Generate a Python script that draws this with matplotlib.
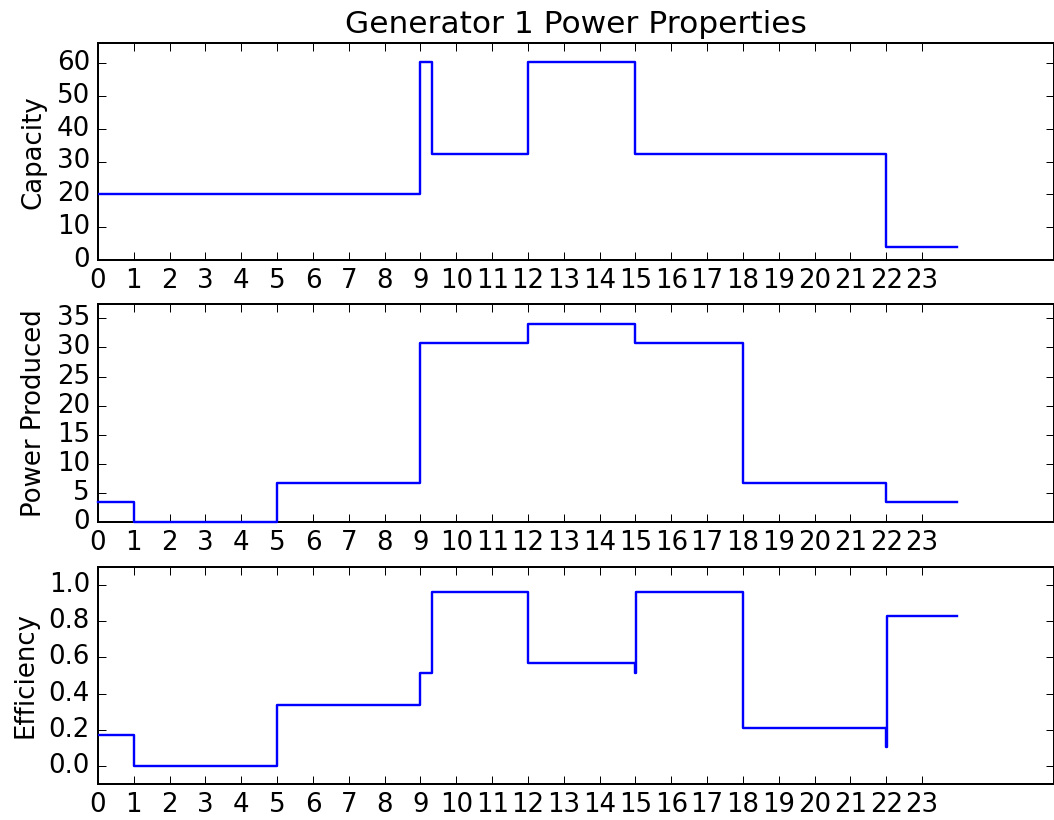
import numpy as np
import matplotlib
matplotlib.use("Agg")
import matplotlib.pyplot as plt

plt.style.use("classic")
plt.rcParams["font.size"] = 13
plt.rcParams["lines.linewidth"] = 1.2

# step breakpoints in hours, each value holds until the next breakpoint
cap_hours = [0, 9.0, 9.33, 12.0, 15.0, 22.0, 23.98]
cap_vals = [20.1, 60.3, 32.2, 60.3, 32.2, 4.1, 4.1]

pow_hours = [0, 1.0, 5.0, 9.0, 12.0, 15.0, 18.0, 22.0, 23.98]
pow_vals = [3.4, 0.0, 6.7, 30.8, 34.0, 30.8, 6.7, 3.4, 3.4]

eff_hours = [0, 1.0, 5.0, 9.0, 9.33, 12.0, 15.0, 15.017, 18.0, 22.0, 22.017, 23.98]
eff_vals = [0.17, 0.0, 0.335, 0.515, 0.963, 0.57, 0.515, 0.963, 0.21, 0.105, 0.83, 0.83]

hour_ticks = list(range(24))

W, H = 1054, 820
fig = plt.figure(figsize=(W / 144, H / 144), dpi=144, facecolor="white")

def px_axes(top, bottom, left=98, right=1053.5):
    return fig.add_axes([left / W, 1 - bottom / H, (right - left) / W, (bottom - top) / H])

ax1 = px_axes(43.3, 260.0)
ax2 = px_axes(304.3, 522.3)
ax3 = px_axes(566.7, 784.3)

ax1.plot(cap_hours, cap_vals, color="b", drawstyle="steps-post", zorder=3)
ax1.set_ylim(0, 66)
ax1.set_yticks(range(0, 61, 10))
ax1.set_ylabel("Capacity")
ax1.set_title("Generator 1 Power Properties", fontsize=15.6)

ax2.plot(pow_hours, pow_vals, color="b", drawstyle="steps-post", zorder=3, clip_on=False)
ax2.set_ylim(0, 37.4)
ax2.set_yticks(range(0, 36, 5))
ax2.set_ylabel("Power Produced")

ax3.plot(eff_hours, eff_vals, color="b", drawstyle="steps-post", zorder=3)
ax3.set_ylim(-0.1, 1.1)
ax3.set_yticks(np.arange(0, 1.01, 0.2))
ax3.set_ylabel("Efficiency")

for ax in (ax1, ax2, ax3):
    ax.set_xlim(0, 1600 / 60)
    ax.set_xticks(hour_ticks)
    ax.set_xticklabels([str(h) for h in hour_ticks])

fig.savefig("out.png", dpi=144, facecolor="white")
